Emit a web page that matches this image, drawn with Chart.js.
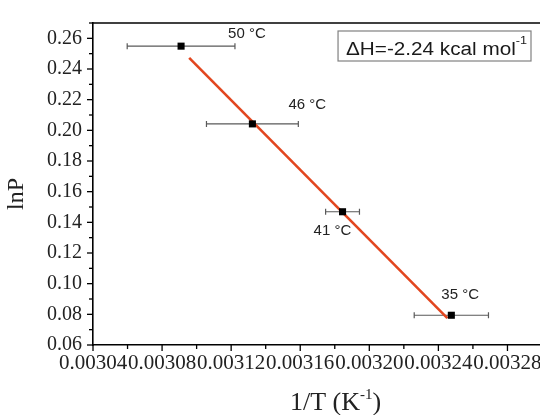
<!DOCTYPE html>
<html><head><meta charset="utf-8">
<script src="https://cdn.jsdelivr.net/npm/chart.js@4"></script>
<style>
html,body{margin:0;padding:0;background:#fff;overflow:hidden;width:540px;height:415px}
#wrap{width:548px;height:415px;position:relative}
</style></head>
<body><div id="wrap"><canvas id="c" width="548" height="415"></canvas></div>
<script>
// ---- data ----
const invT     = [0.0030910, 0.0031323, 0.0031845, 0.0032475];   // 1/T (K^-1)
const lnP      = [0.2549, 0.2042, 0.1469, 0.0794];
const invTErr  = [0.0000312, 0.0000266, 0.0000098, 0.0000215];   // horizontal error half-widths
const tempLabels = ['50 °C', '46 °C', '41 °C', '35 °C'];
const fitX = [0.0030957, 0.0032452];
const fitY = [0.2473, 0.0775];
const xTickLabels = ['0.00304','0.00308','0.00312','0.00316','0.00320','0.00324','0.00328'];
const yTickLabels = ['0.06','0.08','0.10','0.12','0.14','0.16','0.18','0.20','0.22','0.24','0.26'];
const boxText = 'ΔH=-2.24 kcal mol';
const boxSup = '-1';
const xTitleParts = ['1/T (K', '-1', ')'];
const yTitle = 'lnP';

// ---- drawing helpers ----
const labelOffsets = [[47,-8],[36,-15],[-29,23],[-10,-16]];
const SERIF = '"Liberation Serif","Times New Roman",serif';
const SANS = '"Liberation Sans",Arial,sans-serif';

const deco = {
  id: 'deco',
  beforeDatasetsDraw(chart) {
    const {ctx, scales: {x, y}} = chart;
    ctx.save();
    ctx.strokeStyle = '#5a5a5a';
    ctx.lineWidth = 1.2;
    invT.forEach((v, i) => {
      const x0 = x.getPixelForValue(v - invTErr[i]);
      const x1 = x.getPixelForValue(v + invTErr[i]);
      const py = y.getPixelForValue(lnP[i]);
      ctx.beginPath();
      ctx.moveTo(x0, py); ctx.lineTo(x1, py);
      ctx.moveTo(x0, py - 3); ctx.lineTo(x0, py + 3);
      ctx.moveTo(x1, py - 3); ctx.lineTo(x1, py + 3);
      ctx.stroke();
    });
    ctx.restore();
  },
  afterDraw(chart) {
    const {ctx, chartArea: a, scales: {x, y}} = chart;
    ctx.save();
    // top frame
    ctx.strokeStyle = '#000';
    ctx.lineWidth = 1.6;
    ctx.beginPath(); ctx.moveTo(a.left, a.top); ctx.lineTo(a.right, a.top); ctx.stroke();
    ctx.beginPath(); ctx.moveTo(a.right, a.top); ctx.lineTo(a.right, a.bottom); ctx.stroke();
    // tick marks
    ctx.lineWidth = 1.3;
    x.ticks.forEach(t => {
      const px = x.getPixelForValue(t.value);
      ctx.beginPath(); ctx.moveTo(px, a.bottom); ctx.lineTo(px, a.bottom + (t.label ? 6 : 4)); ctx.stroke();
    });
    y.ticks.forEach(t => {
      const py = y.getPixelForValue(t.value);
      ctx.beginPath(); ctx.moveTo(a.left, py); ctx.lineTo(a.left - (t.label ? 6 : 4), py); ctx.stroke();
    });
    // point labels
    ctx.fillStyle = '#222';
    ctx.font = '15px ' + SANS;
    ctx.textAlign = 'left';
    ctx.textBaseline = 'alphabetic';
    tempLabels.forEach((s, i) => {
      ctx.fillText(s, x.getPixelForValue(invT[i]) + labelOffsets[i][0], y.getPixelForValue(lnP[i]) + labelOffsets[i][1]);
    });
    // annotation box
    const sx = 1.15;
    ctx.font = '18px ' + SANS;
    const mainW = ctx.measureText(boxText).width * sx;
    ctx.font = '11px ' + SANS;
    const supW = ctx.measureText(boxSup).width * sx;
    const bw = 8 + mainW + supW + 4, bh = 30;
    const bx = a.right - 11 - bw, by = a.top + 8;
    ctx.fillStyle = '#fff';
    ctx.fillRect(bx, by, bw, bh);
    ctx.strokeStyle = '#808080';
    ctx.lineWidth = 1.2;
    ctx.strokeRect(bx, by, bw, bh);
    ctx.fillStyle = '#1a1a1a';
    ctx.save();
    ctx.translate(bx + 8, by + 24);
    ctx.scale(sx, 1);
    ctx.font = '18px ' + SANS;
    ctx.fillText(boxText, 0, 0);
    ctx.font = '11px ' + SANS;
    ctx.fillText(boxSup, mainW / sx, -11);
    ctx.restore();
    // x title
    ctx.fillStyle = '#222';
    ctx.font = '26px ' + SERIF;
    const w0 = ctx.measureText(xTitleParts[0]).width;
    const w2 = ctx.measureText(xTitleParts[2]).width;
    ctx.font = '15px ' + SERIF;
    const w1 = ctx.measureText(xTitleParts[1]).width;
    const tot = w0 + w1 + w2;
    let tx = (a.left + a.right) / 2 + 18 - tot / 2;
    const ty = a.bottom + 65;
    ctx.font = '26px ' + SERIF;
    ctx.fillText(xTitleParts[0], tx, ty); tx += w0;
    ctx.font = '15px ' + SERIF;
    ctx.fillText(xTitleParts[1], tx, ty - 11); tx += w1;
    ctx.font = '26px ' + SERIF;
    ctx.fillText(xTitleParts[2], tx, ty);
    // y title
    ctx.save();
    ctx.translate(23, (a.top + a.bottom) / 2 + 10);
    ctx.rotate(-Math.PI / 2);
    ctx.textAlign = 'center';
    ctx.font = '24px ' + SERIF;
    ctx.fillText(yTitle, 0, 0);
    ctx.restore();
    ctx.restore();
  }
};

new Chart(document.getElementById('c'), {
  data: {
    datasets: [
      {
        type: 'scatter',
        data: invT.map((v, i) => ({x: v, y: lnP[i]})),
        pointStyle: 'rect',
        pointRadius: 5,
        backgroundColor: '#000',
        borderColor: '#000',
        borderWidth: 0
      },
      {
        type: 'line',
        data: fitX.map((v, i) => ({x: v, y: fitY[i]})),
        borderColor: '#e2461f',
        borderWidth: 2.6,
        pointRadius: 0,
        fill: false
      }
    ]
  },
  options: {
    responsive: false,
    animation: false,
    devicePixelRatio: 1,
    layout: {padding: {left: 0, right: 6, top: 16, bottom: 0}},
    plugins: {legend: {display: false}, tooltip: {enabled: false}},
    scales: {
      x: {
        type: 'linear',
        min: 0.00304, max: 0.00330,
        grid: {display: false, drawTicks: false},
        border: {display: true, color: '#000', width: 1.6},
        ticks: {
          stepSize: 0.00002, autoSkip: false, maxRotation: 0, padding: 6,
          color: '#222', font: {family: SERIF, size: 21},
          callback: v => { const s = Number(v).toFixed(5); return xTickLabels.includes(s) ? s : ''; }
        },
        afterFit: s => { s.height = 70; }
      },
      y: {
        type: 'linear',
        min: 0.06, max: 0.27,
        grid: {display: false, drawTicks: false},
        border: {display: true, color: '#000', width: 1.6},
        ticks: {
          stepSize: 0.01, autoSkip: false, padding: 11,
          color: '#222', font: {family: SERIF, size: 20},
          callback: v => { const s = Number(v).toFixed(2); return yTickLabels.includes(s) ? s : ''; }
        },
        afterFit: s => { s.width = 93; }
      }
    }
  },
  plugins: [deco]
});
</script>
</body></html>
